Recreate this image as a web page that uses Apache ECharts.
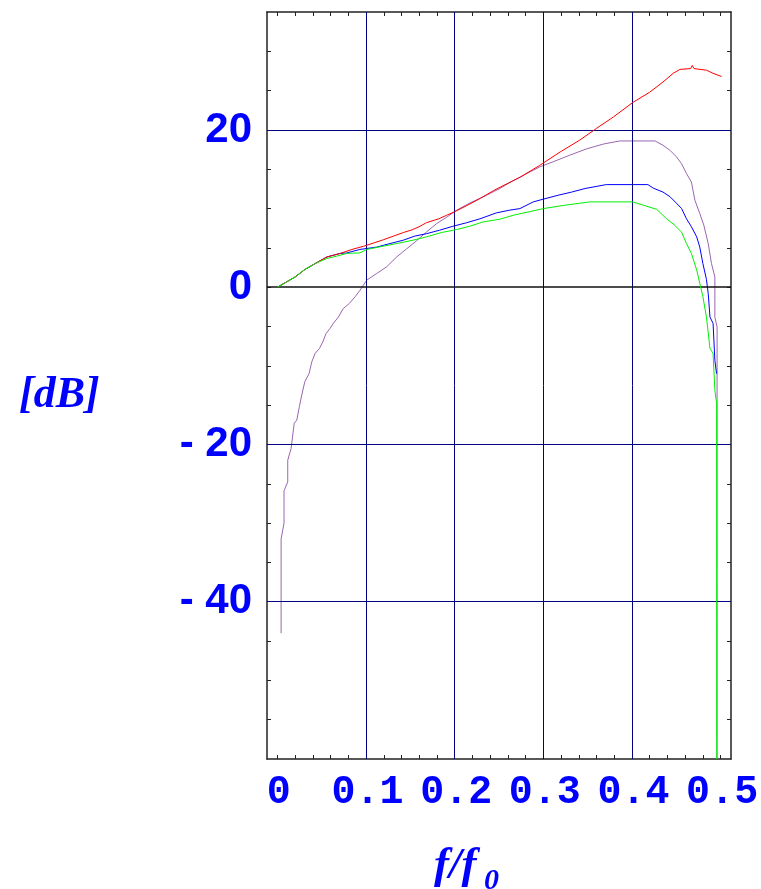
<!DOCTYPE html>
<html><head><meta charset="utf-8">
<script src="https://cdn.jsdelivr.net/npm/echarts@6/dist/echarts.min.js"></script>
<style>html,body{margin:0;padding:0;background:#fff}#c{width:761px;height:889px}</style>
</head><body><div id="c"></div>
<script>
// ---- tick / grid definitions ----
const xTickLabels = [0, 0.1, 0.2, 0.3, 0.4, 0.5];
const yTickLabels = [20, 0, -20, -40];
const xMinorTicks = [0,0.02,0.04,0.06,0.08,0.1,0.12,0.14,0.16,0.18,0.2,0.22,0.24,0.26,0.28,0.3,0.32,0.34,0.36,0.38,0.4,0.42,0.44,0.46,0.48,0.5];
const yMinorTicks = [-55,-50,-45,-40,-35,-30,-25,-20,-15,-10,-5,0,5,10,15,20,25,30];
const xGridLines = [0.1, 0.2, 0.3, 0.4];
const yGridLines = [20, -20, -40];

// ---- series data (f/f0, dB) ----
const redF  = [0,0.02,0.031,0.0425,0.056,0.071,0.084,0.097,0.108,0.12,0.131,0.142,0.152,0.161,0.168,0.182,0.191,0.2,0.214,0.229,0.244,0.258,0.274,0.296,0.319,0.341,0.36,0.379,0.401,0.42,0.435,0.4465,0.454,0.466,0.468,0.47,0.484,0.4915,0.501];
const redDB = [0,1.3,2.25,3.0,3.85,4.3,4.8,5.2,5.6,6.05,6.5,6.95,7.3,7.75,8.2,8.7,9.15,9.6,10.4,11.3,12.3,13.1,14.0,15.5,17.2,18.7,20.2,21.65,23.5,24.8,26.1,27.2,27.7,27.8,28.2,27.8,27.6,27.2,26.8];

const blueF  = [0,0.02,0.031,0.0425,0.056,0.071,0.078,0.093,0.112,0.127,0.142,0.155,0.168,0.183,0.198,0.2135,0.2285,0.247,0.262,0.2736,0.2886,0.3,0.3168,0.332,0.347,0.371,0.418,0.424,0.435,0.443,0.45,0.456,0.4615,0.467,0.473,0.4765,0.48,0.484,0.486,0.488,0.4915,0.4935,0.4954];
const blueDB = [0,1.3,2.25,3.0,3.85,4.3,4.35,4.8,5.1,5.55,5.98,6.5,6.8,7.25,7.75,8.2,8.7,9.45,9.8,10.0,10.85,11.2,11.7,12.1,12.55,13.05,13.05,12.6,12.1,11.5,10.7,10.0,8.7,7.7,6.4,5.1,3.0,1.0,-0.8,-3.8,-4.6,-9.3,-11.0];

const greenF  = [0,0.02,0.031,0.0425,0.0557,0.067,0.078,0.093,0.1008,0.114,0.1346,0.153,0.168,0.185,0.202,0.217,0.232,0.251,0.266,0.283,0.3,0.3225,0.3525,0.401,0.4165,0.428,0.439,0.448,0.456,0.4615,0.467,0.473,0.4765,0.48,0.484,0.488,0.4915,0.4935,0.4955,0.4956];
const greenDB = [0,1.3,2.25,3.0,3.65,3.95,4.3,4.36,4.8,5.1,5.55,5.98,6.4,6.95,7.33,7.75,8.3,8.65,9.15,9.57,10.0,10.4,10.85,10.85,10.3,9.9,8.7,7.9,7.0,5.55,4.3,2.2,0.5,-1.2,-3.8,-7.8,-8.4,-13.1,-14.8,-60];

const purpleF  = [0.0042,0.0042,0.0075,0.0075,0.0117,0.0117,0.0155,0.019,0.0219,0.0248,0.0275,0.031,0.0357,0.0388,0.0425,0.0474,0.0512,0.0549,0.0594,0.0631,0.0688,0.0744,0.0812,0.0876,0.0932,0.097,0.1008,0.112,0.1233,0.1346,0.146,0.157,0.168,0.1797,0.191,0.2023,0.217,0.236,0.251,0.262,0.2736,0.296,0.311,0.33,0.349,0.3675,0.386,0.426,0.435,0.443,0.45,0.456,0.4615,0.467,0.471,0.4765,0.481,0.486,0.4897,0.4935,0.4935,0.496,0.496];
const purpleDB = [-44.0,-32.0,-30.0,-25.9,-24.75,-22.0,-20.5,-17.3,-16.9,-15.2,-13.7,-12.0,-11.0,-9.5,-8.43,-7.8,-6.95,-5.9,-5.25,-4.6,-3.8,-2.7,-2.07,-1.23,-0.38,0.25,0.9,1.74,2.6,3.85,4.9,5.9,7.0,8.1,8.9,9.8,10.7,11.7,12.55,13.3,14.0,15.3,15.95,16.8,17.6,18.2,18.6,18.6,18.05,17.4,16.6,15.7,14.45,13.4,11.06,9.37,7.9,5.55,3.0,1.3,-3.8,-5.05,-60];

const zip = (a, b) => a.map((v, i) => [v, b[i]]);

const X_MIN = -0.0117, X_MAX = 0.5117, Y_MIN = -60, Y_MAX = 35;
const frame = { show: true, onZero: false, lineStyle: { color: '#222', width: 1.5 } };
const tickStyle = { show: true, inside: true, length: 4, lineStyle: { color: '#222', width: 1 } };

const chart = echarts.init(document.getElementById('c'), null, { renderer: 'canvas' });
chart.setOption({
  animation: false,
  backgroundColor: '#fff',
  grid: { left: 267, top: 12, width: 464, height: 747, containLabel: false, outerBoundsMode: 'none' },
  xAxis: [
    { type: 'value', min: X_MIN, max: X_MAX, position: 'bottom',
      axisLine: frame,
      axisTick: Object.assign({}, tickStyle, { customValues: xMinorTicks }),
      splitLine: { show: false },
      axisLabel: { show: true, customValues: xTickLabels, margin: 14,
        fontFamily: '"Liberation Mono", monospace', fontWeight: 'bold', fontSize: 40, color: '#0000ff',
        padding: [0, 0, 0, 3],
        formatter: v => String(+v.toFixed(2)) } },
    { type: 'value', min: X_MIN, max: X_MAX, position: 'top',
      axisLine: frame,
      axisTick: Object.assign({}, tickStyle, { customValues: xMinorTicks }),
      splitLine: { show: false }, axisLabel: { show: false } }
  ],
  yAxis: [
    { type: 'value', min: Y_MIN, max: Y_MAX, position: 'left',
      axisLine: frame,
      axisTick: Object.assign({}, tickStyle, { customValues: yMinorTicks }),
      splitLine: { show: false },
      axisLabel: { show: true, customValues: yTickLabels, margin: 15,
        fontFamily: '"Liberation Sans", Arial, sans-serif', fontWeight: 'bold', fontSize: 42, color: '#0000ff',
        padding: [0, 0, 8, 0],
        formatter: v => v < 0 ? '- ' + (-v) : String(v) } },
    { type: 'value', min: Y_MIN, max: Y_MAX, position: 'right',
      axisLine: frame,
      axisTick: Object.assign({}, tickStyle, { customValues: yMinorTicks }),
      splitLine: { show: false }, axisLabel: { show: false } }
  ],
  graphic: [
    { type: 'text', left: 19, top: 374,
      style: { text: '[dB]', font: 'italic bold 44px "Liberation Serif", serif', fill: '#0000ff' } },
    { type: 'text', left: 434, top: 844,
      style: { text: 'f/f', font: 'italic bold 45px "Liberation Serif", serif', fill: '#0000ff' } },
    { type: 'text', left: 484, top: 866,
      style: { text: '0', font: 'italic bold 30px "Liberation Serif", serif', fill: '#0000ff' } }
  ],
  series: [
    { type: 'line', name: 'grid', data: [], z: 1, silent: true,
      markLine: { silent: true, symbol: 'none', animation: false, label: { show: false },
        lineStyle: { color: '#000080', width: 1, type: 'solid' },
        data: xGridLines.map(v => ({ xAxis: v })).concat(yGridLines.map(v => ({ yAxis: v })))
          .concat([{ yAxis: 0, lineStyle: { color: '#111', width: 1.5, type: 'solid' } }]) } },
    { type: 'line', name: 'purple', data: zip(purpleF, purpleDB), showSymbol: false, z: 3,
      lineStyle: { color: '#9a66b0', width: 1 }, itemStyle: { color: '#9a66b0' } },
    { type: 'line', name: 'blue', data: zip(blueF, blueDB), showSymbol: false, z: 4,
      lineStyle: { color: '#0000ff', width: 1 }, itemStyle: { color: '#0000ff' } },
    { type: 'line', name: 'red', data: zip(redF, redDB), showSymbol: false, z: 5,
      lineStyle: { color: '#ff0000', width: 1 }, itemStyle: { color: '#ff0000' } },
    { type: 'line', name: 'green', data: zip(greenF, greenDB), showSymbol: false, z: 6,
      lineStyle: { color: '#00f000', width: 1 }, itemStyle: { color: '#00f000' } }
  ]
});
</script></body></html>
